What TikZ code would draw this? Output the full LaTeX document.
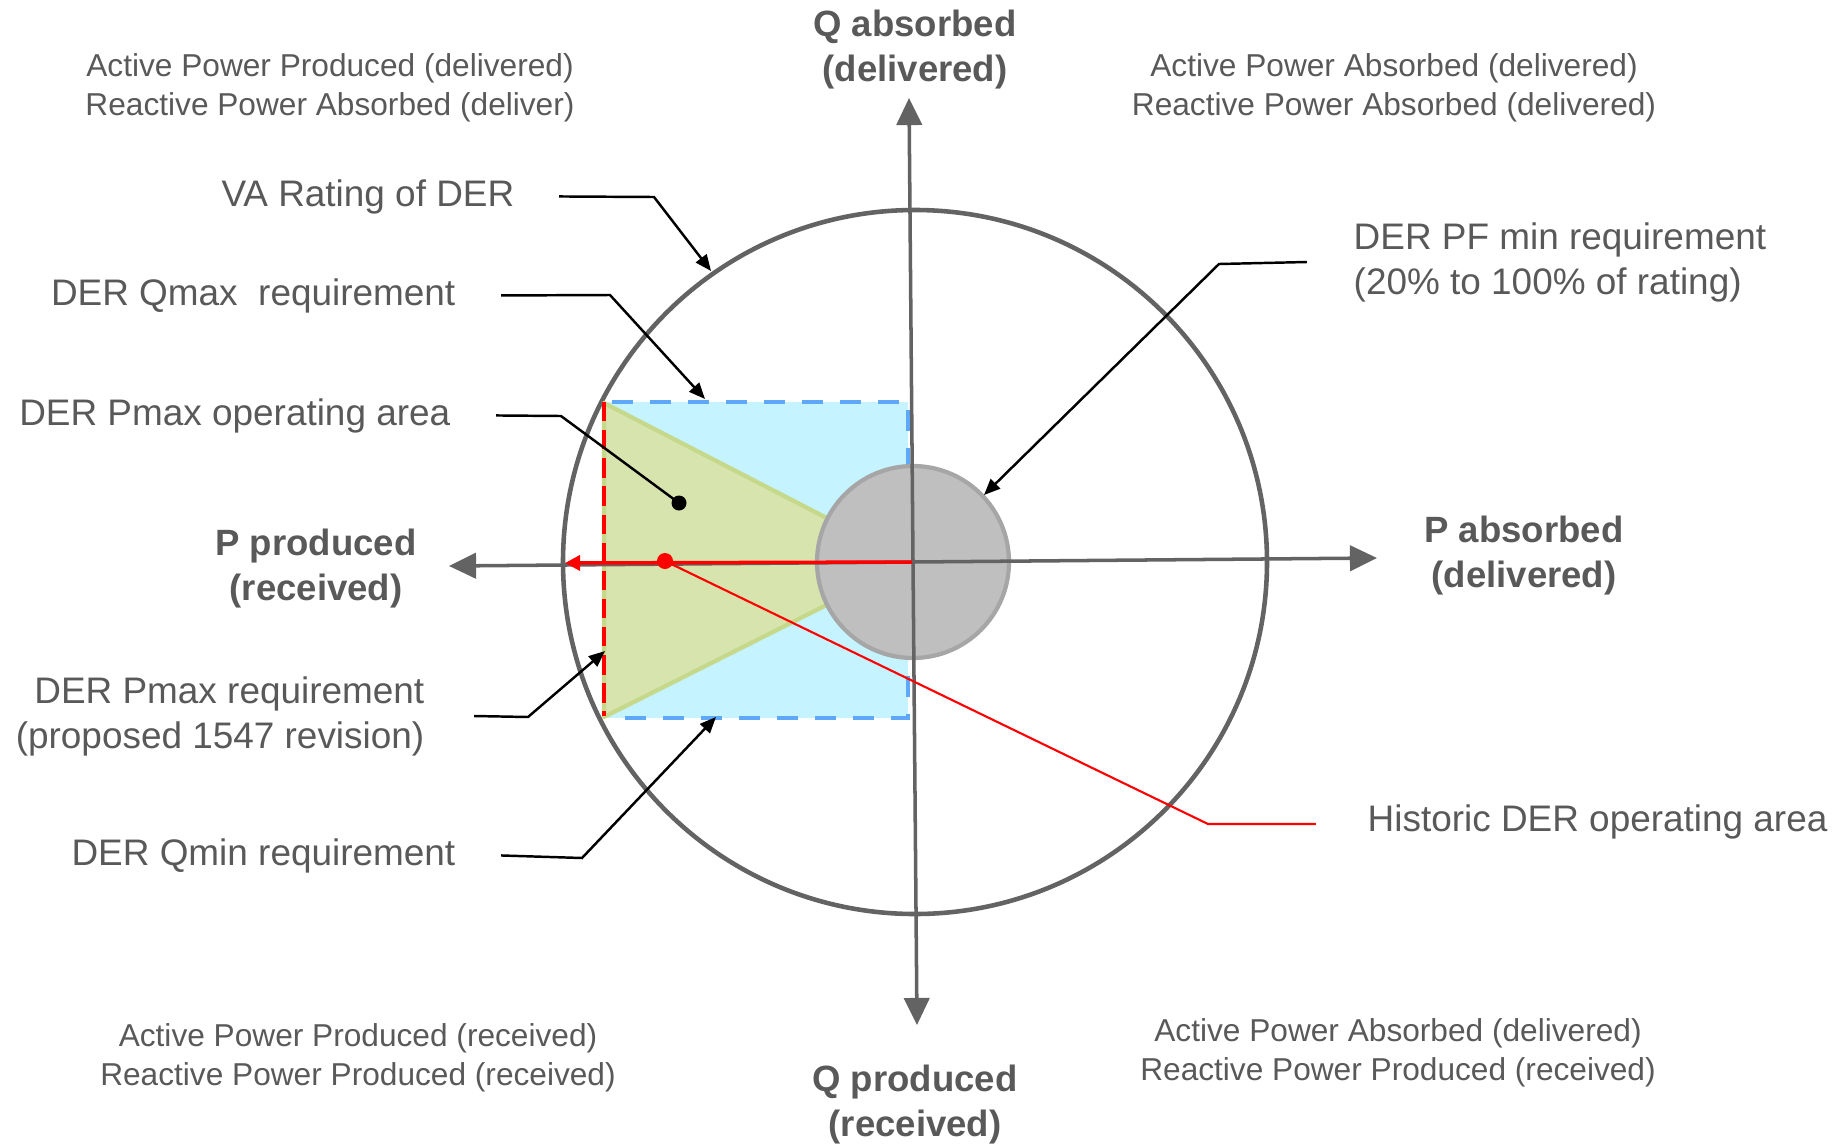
\documentclass[tikz,border=0pt]{standalone}
\usepackage{fontspec}
\setmainfont{Liberation Sans}
\usepackage{xcolor}
\usepackage{tikz}
\usetikzlibrary{arrows.meta}
\definecolor{ink}{HTML}{595959}
\definecolor{axg}{HTML}{636363}
\definecolor{pfgray}{HTML}{BFBFBF}
\definecolor{pfrim}{HTML}{A6A6A6}
\definecolor{qfill}{HTML}{C5F3FF}
\definecolor{qdash}{HTML}{5EA9F7}
\definecolor{pgreen}{HTML}{D7E4AE}
\definecolor{pgrim}{HTML}{C6D88A}
\tikzset{
  lbl/.style={text=ink,inner sep=0pt,font=\fontsize{10.5}{12.8}\selectfont},
  quad/.style={text=ink,inner sep=0pt,align=center,font=\fontsize{9}{11.1}\selectfont},
  axlbl/.style={text=ink,inner sep=0pt,align=center,font=\bfseries\fontsize{10.4}{12.8}\selectfont},
  axisline/.style={axg,line width=1pt,{Triangle[length=7.7pt,width=7.2pt]}-{Triangle[length=7.7pt,width=7.2pt]}},
  lead/.style={black,line width=0.7pt,-{Triangle[length=4.6pt,width=3.8pt]}},
}

\begin{document}
\begin{tikzpicture}[x=0.01cm,y=-0.01cm]
\useasboundingbox (0,0) rectangle (1848,1145);
\coordinate (O) at (912,562);
\coordinate (pw) at (449,566); \coordinate (pe) at (1377,558);
\coordinate (qn) at (909,98);  \coordinate (qs) at (917,1025);
% rating circle
\draw[axg,line width=1.3pt] (915,562) circle[radius=352];
% Qmax/Qmin box and Pmax wedge
\fill[qfill] (604,402) rectangle (908,718);
\filldraw[fill=pgreen,draw=pgrim,line width=1.2pt,line join=round] (604,403) -- (O) -- (604,717) -- cycle;
\draw[qdash,line width=1.3pt,dash pattern=on 6pt off 4.8pt] (612,402) -- (908,402) -- (908,718) -- (612,718);
\draw[red,line width=1.4pt,dash pattern=on 5.5pt off 2.5pt] (604,402) -- (604,716);
% PF min disc
\filldraw[fill=pfgray,draw=pfrim,line width=1.2pt] (913,562) circle[radius=96];
% axes
\draw[axisline] (pw) -- (pe);
\draw[axisline] (qn) -- (qs);
% historic operating point
\coordinate (hdot) at (665,561);
\draw[red,line width=1pt,-{Triangle[length=4.3pt,width=4.3pt]}] (O) -- (565,563);
\fill[red] (hdot) circle[radius=8];
\coordinate (opdot) at (679,503);
\fill[black] (opdot) circle[radius=7.5];

\node[axlbl] (qabs) at (915,50) {Q absorbed\\(delivered)};
\node[axlbl] (qprod) at (915,1105) {Q produced\\(received)};
\node[axlbl] (pprod) at (316,569) {P produced\\(received)};
\node[axlbl] (pabs) at (1524,556) {P absorbed\\(delivered)};

\node[quad] (qtl) at (330,88) {Active Power Produced (delivered)\\Reactive Power Absorbed (deliver)};
\node[quad] (qtr) at (1394,88) {Active Power Absorbed (delivered)\\Reactive Power Absorbed (delivered)};
\node[quad] (qbl) at (358,1058) {Active Power Produced (received)\\Reactive Power Produced (received)};
\node[quad] (qbr) at (1398,1053) {Active Power Absorbed (delivered)\\Reactive Power Produced (received)};

\node[lbl,anchor=base east] (va) at (515,206) {VA Rating of DER};
\node[lbl,anchor=base east] (qmax) at (456,305) {DER Qmax\ \ requirement};
\node[lbl,anchor=base east] (pop) at (451,425) {DER Pmax operating area};
\node[lbl,align=right,anchor=east] (preq) at (425,716) {DER Pmax requirement\\(proposed 1547 revision)};
\node[lbl,anchor=base east] (qmin) at (456,865) {DER Qmin requirement};
\node[lbl,align=left,anchor=west] (pf) at (1353,262) {DER PF min requirement\\(20\% to 100\% of rating)};
\node[lbl,anchor=base west] (hist) at (1367,831) {Historic DER operating area};

\coordinate (vatip) at (711,271);
\coordinate (qmaxtip) at (705,399);
\coordinate (preqtip) at (605,651);
\coordinate (qmintip) at (716,717);
\coordinate (pftip) at (984,495);
\draw[lead] ([xshift=.44cm]va.east) -- (654,197) -- (vatip);
\draw[lead] ([xshift=.45cm]qmax.east) -- (610,295) -- (qmaxtip);
\draw[black,line width=0.7pt] ([xshift=.45cm]pop.east) -- (561,416) -- (opdot);
\draw[lead] ([xshift=.49cm]preq.east) -- (528,717) -- (preqtip);
\draw[lead] ([xshift=.45cm]qmin.east) -- (582,858) -- (qmintip);
\draw[lead] ([xshift=-.46cm]pf.west) -- (1219,264) -- (pftip);
\draw[red,line width=0.6pt] (hdot) -- (1208,824) -- ([xshift=-.51cm]hist.west |- 0,824);
\end{tikzpicture}
\end{document}
